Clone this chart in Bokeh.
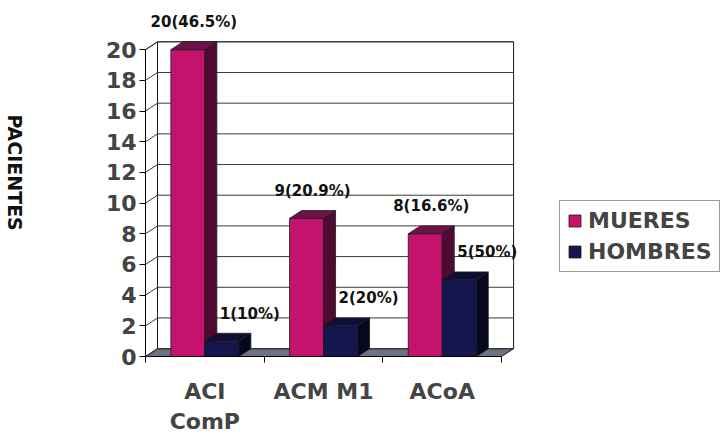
import math
from bokeh.plotting import figure
from bokeh.layouts import row
from bokeh.models import Range1d, FixedTicker, Legend, LegendItem
from bokeh.core.properties import value
from bokeh.embed import file_html
from bokeh.resources import INLINE

# ---- data ----
categories = ["ACI\nComP", "ACM M1", "ACoA"]
mujeres = [20, 9, 8]
hombres = [1, 2, 5]
mujeres_labels = ["20(46.5%)", "9(20.9%)", "8(16.6%)"]
hombres_labels = ["1(10%)", "2(20%)", "5(50%)"]
series_names = ["MUERES", "HOMBRES"]
y_ticks = [0, 2, 4, 6, 8, 10, 12, 14, 16, 18, 20]
y_title = "PACIENTES"

# ---- layout constants ----
W, H = 724, 436
TW = 30                      # width of the side strip holding the vertical title
LEFT, BOTTOM = 145 - TW, 74
FH = H - BOTTOM              # frame height
PX_CAT = 118.7
PX_UNIT = 15.6
x_end = (W - TW - LEFT) / PX_CAT
y_end = FH / PX_UNIT
DX = 12 / PX_CAT
DY = 8 / PX_UNIT
BAR_W = 34 / PX_CAT
n = len(categories)
ymax = y_ticks[-1]
FONT = value("DejaVu Sans")

MAG = ("#C5126C", "#4E0A30", "#70124A")   # front, side, top
NAV = ("#16164E", "#07071E", "#0E0E36")
EDGE = "#1c1c1c"
GRID = "#3a3a3a"

# ---- side strip with the top-to-bottom axis title ----
t = figure(width=TW, height=H, x_range=Range1d(0, TW), y_range=Range1d(0, FH),
           output_backend="svg", toolbar_location=None, x_axis_type=None, y_axis_type=None,
           min_border_left=0, min_border_right=0, min_border_top=0, min_border_bottom=BOTTOM)
t.outline_line_color = None
t.xgrid.visible = False
t.ygrid.visible = False
t.text(x=[14], y=[FH - 175], text=[y_title], angle=-math.pi / 2, text_align="center",
       text_baseline="middle", text_font=FONT, text_font_style="bold", text_font_size="19px",
       text_color="#111111")

# ---- main chart ----
p = figure(width=W - TW, height=H, x_range=Range1d(0, x_end), y_range=Range1d(0, y_end),
           output_backend="svg", toolbar_location=None,
           min_border_left=LEFT, min_border_bottom=BOTTOM, min_border_top=0, min_border_right=0)
p.outline_line_color = None
p.xgrid.visible = False
p.ygrid.visible = False
p.background_fill_color = "white"
p.border_fill_color = "white"

# floor
p.patch([0, n, n + DX, DX], [0, 0, DY, DY], fill_color="#6B7282", line_color=EDGE, line_width=1)
# left wall
p.patch([0, DX, DX, 0], [0, DY, ymax + DY, ymax], fill_color="white", line_color=EDGE, line_width=1)
# back wall
p.quad(left=DX, right=n + DX, bottom=DY, top=ymax + DY, fill_color="white", line_color=EDGE, line_width=1)
# gridlines (left wall diagonals + back wall horizontals)
p.segment(x0=[0] * len(y_ticks), y0=y_ticks, x1=[DX] * len(y_ticks), y1=[v + DY for v in y_ticks],
          line_color=GRID, line_width=1)
p.segment(x0=[DX] * len(y_ticks), y0=[v + DY for v in y_ticks], x1=[n + DX] * len(y_ticks),
          y1=[v + DY for v in y_ticks], line_color=GRID, line_width=1)

def bars(vals, lefts, cols):
    rights = [l + BAR_W for l in lefts]
    front = p.quad(left=lefts, right=rights, bottom=[0] * len(vals), top=vals,
                   fill_color=cols[0], line_color=EDGE, line_width=0.8)
    p.patches(xs=[[r, r + DX, r + DX, r] for r in rights],
              ys=[[0, DY, v + DY, v] for v in vals],
              fill_color=cols[1], line_color=EDGE, line_width=0.8)
    p.patches(xs=[[l, r, r + DX, l + DX] for l, r in zip(lefts, rights)],
              ys=[[v, v, v + DY, v + DY] for v in vals],
              fill_color=cols[2], line_color=EDGE, line_width=0.8)
    return front

mag_left = [i + 0.5 - BAR_W for i in range(n)]
nav_left = [i + 0.5 for i in range(n)]
r_m = bars(mujeres, mag_left, MAG)
r_h = bars(hombres, nav_left, NAV)

# data labels
LBL_DY = 20 / PX_UNIT
p.text(x=[l + BAR_W / 2 + DX / 2 for l in mag_left], y=[v + DY + LBL_DY for v in mujeres],
       text=mujeres_labels, text_font=FONT, text_font_style="bold", text_font_size="15px",
       text_align="center", text_baseline="middle", text_color="#111111")
p.text(x=[l + BAR_W / 2 + DX / 2 + 22 / PX_CAT for l in nav_left], y=[v + DY + LBL_DY for v in hombres],
       text=hombres_labels, text_font=FONT, text_font_style="bold", text_font_size="15px",
       text_align="center", text_baseline="middle", text_color="#111111")

# axes
ya = p.yaxis[0]
ya.ticker = FixedTicker(ticks=y_ticks)
ya.bounds = (0, ymax)
ya.major_tick_out = 6
ya.major_tick_in = 0
ya.minor_tick_line_color = None
ya.axis_line_color = "black"
ya.major_label_text_font = "DejaVu Sans"
ya.major_label_text_font_style = "bold"
ya.major_label_text_font_size = "22px"
ya.major_label_standoff = 3

xa = p.xaxis[0]
xa.ticker = FixedTicker(ticks=[i + 0.5 for i in range(n)], minor_ticks=list(range(n + 1)))
xa.major_label_overrides = {i + 0.5: c for i, c in enumerate(categories)}
xa.bounds = (0, n)
xa.major_tick_line_color = None
xa.minor_tick_out = 6
xa.minor_tick_in = 0
xa.minor_tick_line_color = "black"
xa.axis_line_color = "black"
xa.major_label_text_font = "DejaVu Sans"
xa.major_label_text_font_style = "bold"
xa.major_label_text_font_size = "22px"
xa.major_label_standoff = 16

legend = Legend(items=[LegendItem(label=series_names[0], renderers=[r_m]),
                       LegendItem(label=series_names[1], renderers=[r_h])],
                location=(414, 84), border_line_color="#333333", border_line_width=1,
                background_fill_color="white", background_fill_alpha=1,
                glyph_width=15, glyph_height=15, label_standoff=6, spacing=6, padding=7, margin=0,
                label_text_font="DejaVu Sans", label_text_font_style="bold", label_text_font_size="22px")
p.add_layout(legend)

layout = row(t, p, spacing=0)
open("out.html", "w").write(file_html(layout, INLINE))
